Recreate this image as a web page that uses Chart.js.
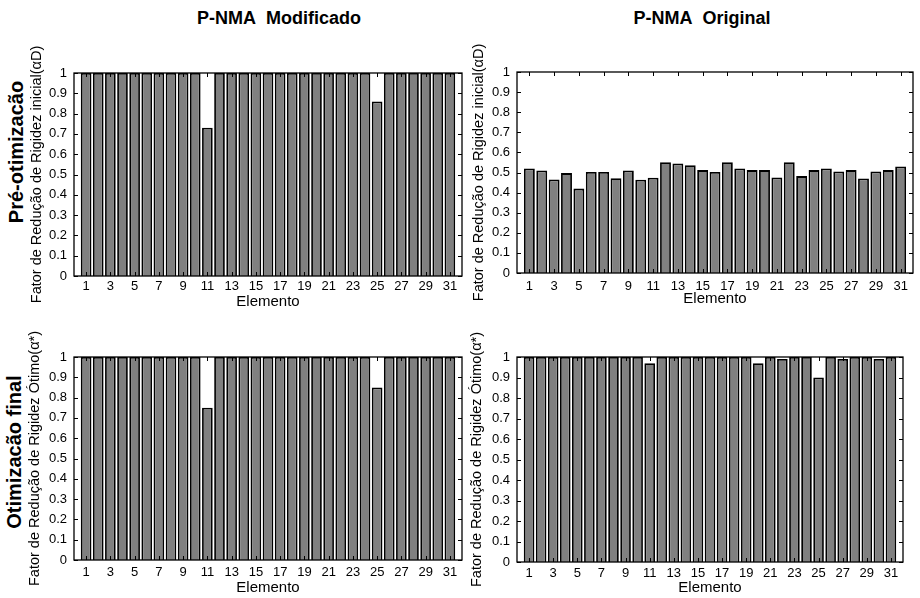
<!DOCTYPE html>
<html>
<head>
<meta charset="utf-8">
<script src="https://cdn.jsdelivr.net/npm/chart.js@4"></script>
<style>
  body { margin: 0; background: #fff; font-family: "Liberation Sans", Arial, sans-serif; }
  #wrap { position: relative; width: 920px; height: 598px; overflow: hidden; }
  canvas { position: absolute; }
  .lbl { position: absolute; white-space: nowrap; font-weight: bold; color: #000; transform: translate(-50%, -50%); }
  .rot { transform: translate(-50%, -50%) rotate(-90deg); }
</style>
</head>
<body>
<div id="wrap">
  <div class="lbl" style="left:279px; top:18px; font-size:18px;">P-NMA&nbsp; Modificado</div>
  <div class="lbl" style="left:702px; top:18px; font-size:18px;">P-NMA&nbsp; Original</div>
  <div class="lbl rot" style="left:16px; top:152px; font-size:20px;">Pré-otimizacão</div>
  <div class="lbl rot" style="left:14px; top:452px; font-size:20px;">Otimizacão final</div>

  <canvas id="grafModPre" style="left:20px; top:20px;" width="450" height="300"></canvas>
  <canvas id="grafOrigPre" style="left:462px; top:20px;" width="458" height="300"></canvas>
  <canvas id="grafModFinal" style="left:20px; top:305px;" width="450" height="293"></canvas>
  <canvas id="grafOrigFinal" style="left:462px; top:305px;" width="458" height="293"></canvas>
</div>

<script>
// elementos da estrutura
const elementos = [1, 2, 3, 4, 5, 6, 7, 8, 9, 10, 11, 12, 13, 14, 15, 16, 17, 18, 19, 20, 21, 22, 23, 24, 25, 26, 27, 28, 29, 30, 31];
const ticksElemento = [1, 3, 5, 7, 9, 11, 13, 15, 17, 19, 21, 23, 25, 27, 29, 31];

// P-NMA modificado, pré-otimização
const modificadoInicial = [1, 1, 1, 1, 1, 1, 1, 1, 1, 1, 0.73, 1, 1, 1, 1, 1, 1, 1, 1, 1, 1, 1, 1, 1, 0.86, 1, 1, 1, 1, 1, 1];
// P-NMA original, pré-otimização
const originalInicial = [0.52, 0.51, 0.465, 0.497, 0.42, 0.503, 0.503, 0.472, 0.51, 0.464, 0.474, 0.551, 0.545, 0.536, 0.512, 0.503,
  0.551, 0.52, 0.512, 0.512, 0.475, 0.551, 0.482, 0.512, 0.52, 0.505, 0.512, 0.47, 0.505, 0.512, 0.53];
// P-NMA modificado, otimização final
const modificadoFinal = [1, 1, 1, 1, 1, 1, 1, 1, 1, 1, 0.75, 1, 1, 1, 1, 1, 1, 1, 1, 1, 1, 1, 1, 1, 0.85, 1, 1, 1, 1, 1, 1];
// P-NMA original, otimização final
const originalFinal = [1, 1, 1, 1, 1, 1, 1, 1, 1, 1, 0.97, 1, 1, 1, 1, 1, 1, 1, 1, 0.97, 1, 0.99, 1, 1, 0.90, 1, 0.99, 1, 1, 0.99, 1];

const tituloInicial = "Fator de Redução de Rigidez inicial(αD)";
const tituloFinal = "Fator de Redução de Rigidez Ótimo(α*)";

const fonte = "'Liberation Sans', Arial, sans-serif";

// caixa e marcas para dentro, estilo MATLAB
const caixaMatlab = {
  id: "caixaMatlab",
  afterDatasetsDraw(chart) {
    const { ctx, chartArea: a, scales } = chart;
    ctx.save();
    ctx.strokeStyle = "#000";
    ctx.lineWidth = 1;
    ctx.beginPath();
    scales.y.ticks.forEach(t => {
      const y = Math.round(scales.y.getPixelForValue(t.value)) + 0.5;
      ctx.moveTo(a.left, y); ctx.lineTo(a.left + 4, y);
      ctx.moveTo(a.right, y); ctx.lineTo(a.right - 4, y);
    });
    scales.x.ticks.forEach(t => {
      const x = Math.round(scales.x.getPixelForValue(t.value)) + 0.5;
      ctx.moveTo(x, a.top); ctx.lineTo(x, a.top + 4);
      ctx.moveTo(x, a.bottom); ctx.lineTo(x, a.bottom - 4);
    });
    ctx.stroke();
    ctx.lineWidth = 1.3;
    ctx.strokeRect(a.left, a.top, a.right - a.left, a.bottom - a.top);
    ctx.restore();
  }
};

function grafico(id, valores, tituloY, g) {
  const ctx = document.getElementById(id).getContext("2d");
  return new Chart(ctx, {
    type: "bar",
    data: {
      datasets: [{
        data: elementos.map((e, i) => ({ x: e, y: valores[i] })),
        backgroundColor: "#808080",
        borderColor: "#000",
        borderWidth: 1.8,
        barPercentage: 0.88,
        categoryPercentage: 1
      }]
    },
    options: {
      responsive: false,
      animation: false,
      layout: { padding: { top: g.top, right: g.right, left: 0, bottom: 0 } },
      plugins: { legend: { display: false }, tooltip: { enabled: false } },
      scales: {
        x: {
          type: "linear",
          offset: false,
          min: 0,
          max: 32,
          grid: { display: false, drawTicks: false },
          border: { display: false },
          afterBuildTicks: s => { s.ticks = ticksElemento.map(v => ({ value: v })); },
          afterFit: s => { s.height = g.xh; },
          ticks: { color: "#000", padding: g.xpad, maxRotation: 0, autoSkip: false, font: { family: fonte, size: 13 } },
          title: { display: true, text: "Elemento", color: "#000", font: { family: fonte, size: 15 }, padding: { top: 0, bottom: g.xtit } }
        },
        y: {
          min: 0,
          max: 1,
          grid: { display: false, drawTicks: false },
          border: { display: false },
          afterFit: s => { s.width = g.yw; },
          ticks: { stepSize: 0.1, color: "#000", padding: 7, font: { family: fonte, size: 13 }, callback: v => +v.toFixed(1) },
          title: { display: true, text: tituloY, color: "#000", font: { family: fonte, size: 14.5 }, padding: { top: g.ytit, bottom: 0 } }
        }
      }
    },
    plugins: [caixaMatlab]
  });
}

grafico("grafModPre", modificadoInicial, tituloInicial, { top: 53, right: 8, xh: 44, yw: 54, xpad: 3, xtit: 9, ytit: 8.3 });
grafico("grafOrigPre", originalInicial, tituloInicial, { top: 52, right: 7, xh: 47, yw: 55, xpad: 6, xtit: 12, ytit: 8.3 });
grafico("grafModFinal", modificadoFinal, tituloFinal, { top: 52, right: 8, xh: 38, yw: 54, xpad: 5, xtit: 1, ytit: 6.3 });
grafico("grafOrigFinal", originalFinal, tituloFinal, { top: 52, right: 17, xh: 36, yw: 55, xpad: 4, xtit: 1, ytit: 6.3 });
</script>
</body>
</html>
